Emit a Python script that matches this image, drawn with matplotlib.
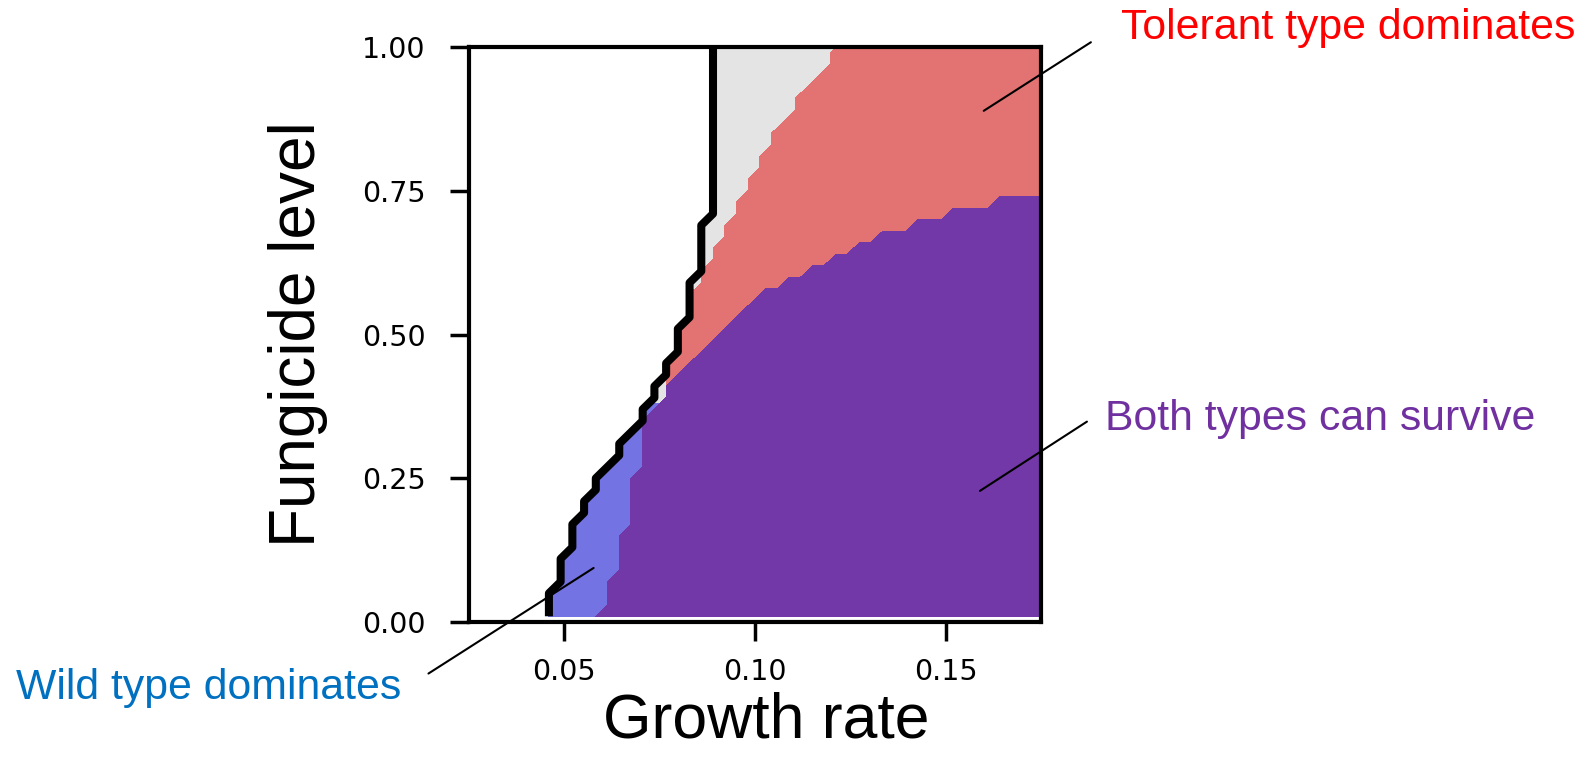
import numpy as np
import matplotlib
matplotlib.use('Agg')
import matplotlib.pyplot as plt

# simulation grid: fungicide level (rows) x growth rate (columns)
fungicide = np.linspace(0.01, 1.01, 51)
growth = np.linspace(0.026, 0.1766, 50)

nan = np.nan
# growth rate above which the population survives (black line), one per row
surv_edge = [0.0460, 0.0460, 0.0460, 0.0490, 0.0490, 0.0490, 0.0521, 0.0521, 0.0521,
             0.0552, 0.0552, 0.0583, 0.0583, 0.0613, 0.0644, 0.0644, 0.0675, 0.0706,
             0.0706, 0.0736, 0.0736, 0.0767, 0.0767, 0.0798, 0.0798, 0.0798, 0.0829,
             0.0829, 0.0829, 0.0829, 0.0859, 0.0859, 0.0859, 0.0859, 0.0859] + [0.0890] * 16
# growth rate above which the tolerant type dominates (nan: wild type dominates)
tol_edge = [nan] * 19 + [0.0767, 0.0767, 0.0767, 0.0767, 0.0798, 0.0798, 0.0798,
                         0.0829, 0.0829, 0.0829, 0.0859, 0.0859, 0.0890, 0.0890,
                         0.0921, 0.0921, 0.0951, 0.0951, 0.0982, 0.0982, 0.1013,
                         0.1013, 0.1044, 0.1044, 0.1074, 0.1105, 0.1105, 0.1136,
                         0.1167, 0.1197, 0.1197, 0.1228]
# growth rate above which both types can survive
both_edge = [0.0583, 0.0613, 0.0613, 0.0613, 0.0644, 0.0644, 0.0644, 0.0644,
             0.0675, 0.0675, 0.0675, 0.0675, 0.0675, 0.0706, 0.0706, 0.0706, 0.0706,
             0.0706, 0.0736, 0.0767, 0.0767, 0.0798, 0.0829, 0.0859, 0.0890, 0.0921,
             0.0951, 0.0982, 0.1013, 0.1074, 0.1136, 0.1197, 0.1259, 0.1320, 0.1413,
             0.1505, 0.1628] + [nan] * 14

grey = '#e4e4e4'
blue = '#7373e3'
red = '#e37272'
purple = '#7338a8'

G, F = np.meshgrid(growth, fungicide)
surv = G > np.array(surv_edge)[:, None]
tol = np.array(tol_edge)[:, None]
wild = surv & np.isnan(tol)
tolerant = G > tol
both = G > np.array(both_edge)[:, None]

fig = plt.figure(figsize=(15.81, 7.68), dpi=100)
ax = fig.add_axes([0.2966, 0.1901, 0.3618, 0.7487])

for mask, col in [(surv, grey), (wild, blue), (tolerant, red), (both, purple)]:
    ax.contourf(G, F, mask.astype(float), levels=[0.5, 1.5], colors=[col])
ax.contour(G, F, surv.astype(float), levels=[0.5], colors='k', linewidths=5.8)

ax.set_xlim(0.025, 0.175)
ax.set_ylim(0, 1)
ax.set_xticks([0.05, 0.10, 0.15])
ax.set_xticklabels(['0.05', '0.10', '0.15'])
ax.set_yticks([0, 0.25, 0.5, 0.75, 1.0])
ax.set_yticklabels(['0.00', '0.25', '0.50', '0.75', '1.00'])
ax.tick_params(length=14, width=2.5, labelsize=20.5)
ax.tick_params(axis='y', pad=17)
ax.tick_params(axis='x', pad=12)
for s in ax.spines.values():
    s.set_linewidth(3)

arial = ['Liberation Sans', 'DejaVu Sans']
ax.set_xlabel('Growth rate', fontsize=45, family=arial)
ax.xaxis.set_label_coords(0.519, -0.12)
ax.set_ylabel('Fungicide level', fontsize=46, family=arial)
ax.yaxis.set_label_coords(-0.2465, 0.5)

# labels and leader lines
fig.text(0.853, 0.963, 'Tolerant type dominates', color='#ff0000', fontsize=30.8,
         ha='center', va='center', family=arial)
fig.text(0.835, 0.455, 'Both types can survive', color='#7030a0', fontsize=30.8,
         ha='center', va='center', family=arial)
fig.text(0.1317, 0.1046, 'Wild type dominates', color='#0070c0', fontsize=30.8,
         ha='center', va='center', family=arial)

line = dict(arrowstyle='-', color='k', lw=1.5, shrinkA=0, shrinkB=0)
ax.annotate('', xy=(0.160, 0.889), xytext=(0.690, 0.945), textcoords='figure fraction',
            arrowprops=line, annotation_clip=False)
ax.annotate('', xy=(0.159, 0.228), xytext=(0.6875, 0.451), textcoords='figure fraction',
            arrowprops=line, annotation_clip=False)
ax.annotate('', xy=(0.0577, 0.094), xytext=(0.271, 0.123), textcoords='figure fraction',
            arrowprops=line, annotation_clip=False)

fig.savefig('out.png', dpi=100)
